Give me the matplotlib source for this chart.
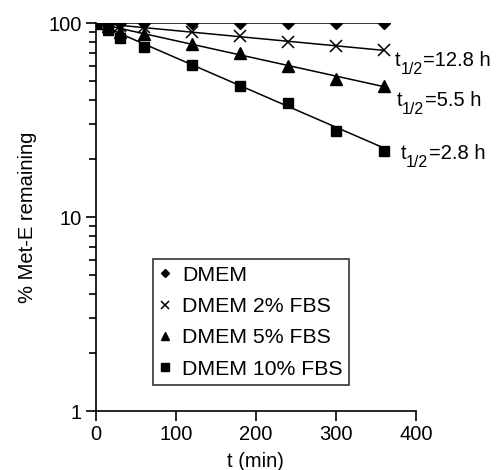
import matplotlib
matplotlib.use("Agg")
import matplotlib.pyplot as plt
from matplotlib.ticker import LogLocator, FixedLocator, NullFormatter

plt.rcParams['font.family'] = ['Liberation Sans', 'DejaVu Sans']

# sampling times (min)
t = [0, 15, 30, 60, 120, 180, 240, 300, 360]

# % Met-E remaining
dmem = [100, 100, 100, 100, 100, 100, 100, 100, 100]
fbs2 = [100, 99, 97, 95.7, 89.5, 86, 80, 76.4, 72.6]
fbs5 = [100, 96, 90, 87.4, 77.6, 69.8, 60.2, 51.6, 47.3]
fbs10 = [100, 92, 83.4, 75, 61, 47.5, 38.5, 27.8, 21.9]

# fitted lines (start / end values)
fit_t = [0, 360]
fit_dmem = [100, 100]
fit_2 = [100, 72.3]
fit_5 = [100, 47]
fit_10 = [100, 22.7]

half_lives = ['12.8', '5.5', '2.8']
label_x = [374, 376, 381]
label_y = [60, 37.4, 19.9]

FS = 14.5

fig = plt.figure(figsize=(5.04, 4.70), dpi=100)
ax = fig.add_axes([0.190, 0.1255, 0.635, 0.8255])

for fit in [fit_dmem, fit_2, fit_5, fit_10]:
    ax.plot(fit_t, fit, color='black', lw=1.1, zorder=2)

ms_kw = dict(color='black', linestyle='none', zorder=3)
h1, = ax.plot(t, dmem, marker='D', markersize=6, label='DMEM', **ms_kw)
h2, = ax.plot(t, fbs2, marker='x', markersize=8, mew=1.1, label='DMEM 2% FBS', **ms_kw)
h3, = ax.plot(t, fbs5, marker='^', markersize=8, label='DMEM 5% FBS', **ms_kw)
h4, = ax.plot(t, fbs10, marker='s', markersize=7.5, label='DMEM 10% FBS', **ms_kw)

# half-life labels: "t", subscript "1/2", then "=x h"
for hl, xx, yy in zip(half_lives, label_x, label_y):
    t_txt = ax.text(xx, yy, 't', fontsize=FS, va='baseline', ha='left',
                    clip_on=False)
    sub = ax.annotate('1/2', xy=(1, 0), xycoords=t_txt, xytext=(0, -3),
                      textcoords='offset points', fontsize=11.5,
                      va='baseline', ha='left')
    ax.annotate('=' + hl + ' h', xy=(1, 0), xycoords=(sub, t_txt),
                xytext=(0.5, 0), textcoords='offset points', fontsize=FS,
                va='bottom', ha='left')

ax.set_yscale('log')
ax.set_xlim(0, 400)
ax.set_ylim(1, 100)
ax.xaxis.set_major_locator(FixedLocator([0, 100, 200, 300, 400]))
ax.yaxis.set_major_locator(FixedLocator([1, 10, 100]))
ax.set_yticklabels(['1', '10', '100'])
ax.yaxis.set_minor_locator(LogLocator(base=10, subs=range(2, 10)))
ax.yaxis.set_minor_formatter(NullFormatter())

for s in ['top', 'right']:
    ax.spines[s].set_visible(False)
for s in ['left', 'bottom']:
    ax.spines[s].set_linewidth(1.2)
ax.tick_params(axis='both', which='major', direction='out', length=7, width=1.2,
               labelsize=FS, pad=3)
ax.tick_params(axis='y', which='minor', direction='out', length=5, width=1.2)

ax.set_xlabel('t (min)', fontsize=FS, labelpad=6)
ax.set_ylabel('% Met-E remaining', fontsize=FS, labelpad=8)

leg = ax.legend(handles=[h1, h2, h3, h4], loc='lower left', bbox_to_anchor=(0.178, 0.067),
                borderaxespad=0, fontsize=15.3, frameon=True, fancybox=False,
                edgecolor='black', handlelength=0.6, handletextpad=0.5, markerscale=0.75,
                borderpad=0.3, labelspacing=0.58)
leg.get_frame().set_linewidth(1.2)

fig.savefig('out.png', dpi=100)
